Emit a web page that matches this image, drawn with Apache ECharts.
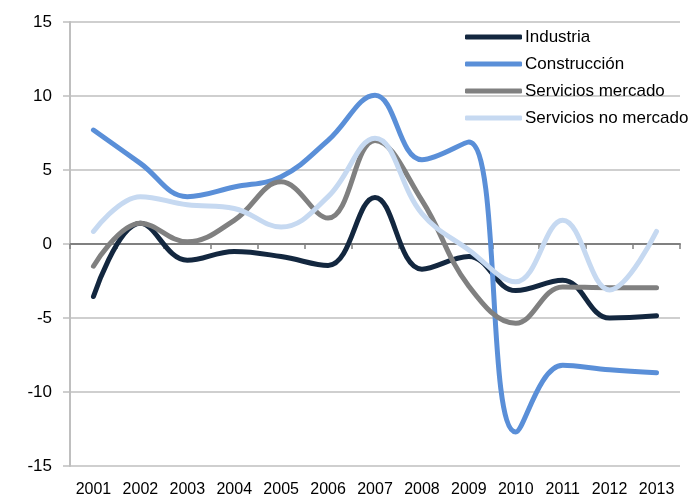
<!DOCTYPE html>
<html>
<head>
<meta charset="utf-8">
<script src="https://cdn.jsdelivr.net/npm/echarts@6/dist/echarts.min.js"></script>
<style>html,body{margin:0;padding:0;background:#fff}#c{width:689px;height:500px}</style>
</head>
<body>
<div id="c"></div>
<script>
const years = ['2001','2002','2003','2004','2005','2006','2007','2008','2009','2010','2011','2012','2013'];
const industria = [-3.55, 1.4, -1.1, -0.5, -0.85, -1.45, 3.15, -1.7, -0.85, -3.15, -2.45, -5.0, -4.85];
const construccion = [7.7, 5.45, 3.2, 3.85, 4.55, 7.0, 10.05, 5.7, 6.9, -12.7, -8.2, -8.5, -8.7];
const serviciosMercado = [-1.5, 1.4, 0.15, 1.6, 4.2, 1.75, 7.0, 2.95, -2.85, -5.35, -2.9, -2.95, -2.95];
const serviciosNoMercado = [0.85, 3.2, 2.65, 2.4, 1.15, 3.2, 7.15, 2.05, -0.4, -2.55, 1.6, -3.1, 0.85];
const yTicks = { min: -15, max: 15, interval: 5 };

const FONT = 'Liberation Sans, Arial, Helvetica, sans-serif';
const names = ['Industria', 'Construcción', 'Servicios mercado', 'Servicios no mercado'];
const colors = ['#13273f', '#5a8fd8', '#808080', '#c6d9f1'];
const values = [industria, construccion, serviciosMercado, serviciosNoMercado];

const chart = echarts.init(document.getElementById('c'), null, { renderer: 'canvas' });
chart.setOption({
  animation: false,
  backgroundColor: '#ffffff',
  color: colors,
  grid: { left: 70, right: 9, top: 22, bottom: 34, containLabel: false },
  legend: {
    orient: 'vertical',
    left: 460,
    top: 23,
    itemWidth: 57,
    itemHeight: 5,
    itemGap: 9,
    icon: 'roundRect',
    textStyle: { fontFamily: FONT, fontSize: 17, color: '#000', lineHeight: 18, padding: [0, 0, 0, -2] },
    data: names
  },
  xAxis: [
    {
      type: 'category',
      data: years,
      boundaryGap: true,
      position: 'bottom',
      axisLine: { show: false, onZero: false },
      axisTick: { show: false },
      axisLabel: { fontFamily: FONT, fontSize: 16, color: '#000', margin: 16, interval: 0 },
      splitLine: { show: false }
    },
    {
      type: 'category',
      data: years,
      boundaryGap: true,
      position: 'bottom',
      axisLine: { show: true, onZero: true, lineStyle: { color: '#808080', width: 2 } },
      axisTick: { show: true, length: 5, lineStyle: { color: '#808080', width: 1.5 } },
      axisLabel: { show: false },
      splitLine: { show: false }
    }
  ],
  yAxis: {
    type: 'value',
    min: yTicks.min,
    max: yTicks.max,
    interval: yTicks.interval,
    axisLine: { show: true, lineStyle: { color: '#bfbfbf', width: 2 } },
    axisTick: { show: true, length: 7, lineStyle: { color: '#bfbfbf', width: 1.5 } },
    axisLabel: { fontFamily: FONT, fontSize: 17, color: '#000', margin: 18 },
    splitLine: { show: true, lineStyle: { color: '#bfbfbf', width: 1.5 } }
  },
  series: values.map((v, i) => ({
    name: names[i],
    type: 'line',
    data: v,
    xAxisIndex: 0,
    smooth: 0.4,
    symbol: 'none',
    lineStyle: { color: colors[i], width: 5, cap: 'round', join: 'round' },
    itemStyle: { color: colors[i] }
  }))
});
</script>
</body>
</html>
